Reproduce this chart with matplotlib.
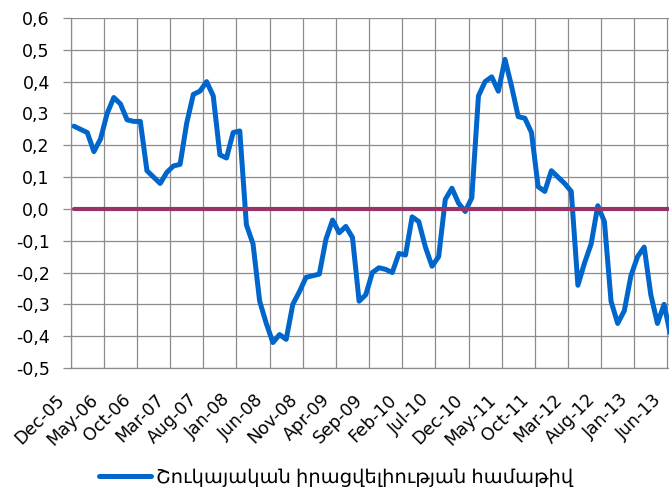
import matplotlib
matplotlib.use("Agg")
import matplotlib.pyplot as plt

# ---- data ----
index_values = [0.26, 0.25, 0.24, 0.18, 0.22, 0.30, 0.35, 0.33, 0.28, 0.275,
                0.275, 0.12, 0.10, 0.08, 0.115, 0.135, 0.14, 0.27, 0.36, 0.37,
                0.40, 0.355, 0.17, 0.16, 0.24, 0.245, -0.05, -0.11, -0.29, -0.36,
                -0.42, -0.395, -0.41, -0.30, -0.26, -0.215, -0.21, -0.205, -0.095, -0.035,
                -0.075, -0.055, -0.09, -0.29, -0.27, -0.20, -0.185, -0.19, -0.20, -0.14,
                -0.145, -0.025, -0.04, -0.12, -0.18, -0.15, 0.03, 0.065, 0.018, -0.008,
                0.035, 0.355, 0.40, 0.415, 0.37, 0.47, 0.385, 0.29, 0.285, 0.24,
                0.07, 0.055, 0.12, 0.10, 0.08, 0.055, -0.24, -0.17, -0.11, 0.01,
                -0.04, -0.29, -0.36, -0.32, -0.21, -0.15, -0.12, -0.27, -0.36, -0.30,
                -0.40]
zero_line = [0.0] * len(index_values)
tick_labels = ["Dec-05", "May-06", "Oct-06", "Mar-07", "Aug-07", "Jan-08", "Jun-08",
               "Nov-08", "Apr-09", "Sep-09", "Feb-10", "Jul-10", "Dec-10", "May-11",
               "Oct-11", "Mar-12", "Aug-12", "Jan-13", "Jun-13"]
y_ticks = [-0.5, -0.4, -0.3, -0.2, -0.1, 0.0, 0.1, 0.2, 0.3, 0.4, 0.5, 0.6]
series_name = "Շուկայական իրացվելիության համաթիվ"

W, H = 669, 494
fig = plt.figure(figsize=(W / 100, H / 100), dpi=100)
n = len(index_values)
px_per_cat = 6.63
left_px, top_px, bottom_px = 70.7, 18, 368
ax = fig.add_axes([left_px / W, (H - bottom_px) / H,
                   n * px_per_cat / W, (bottom_px - top_px) / H])

x = list(range(n))
ax.plot(x, index_values, color="#0066CC", lw=3.6, solid_capstyle="round",
        solid_joinstyle="round", zorder=3, label=series_name)
ax.plot(x, zero_line, color="#993366", lw=3.0, solid_capstyle="round", zorder=4)

ax.set_xlim(-0.5, n - 0.5)
ax.set_ylim(-0.5, 0.6)

# gridlines
grid_c = "#8c8c8c"
for gx in range(0, n + 1, 5):
    ax.axvline(gx - 0.5, color=grid_c, lw=0.9, zorder=1)
ax.set_yticks(y_ticks)
ax.set_yticklabels([f"{v:.1f}".replace(".", ",") for v in y_ticks],
                   fontfamily="DejaVu Sans")
ax.yaxis.grid(True, color=grid_c, lw=0.9, zorder=1)
ax.set_axisbelow(True)

ax.set_xticks([])
ax.tick_params(axis="y", length=6, width=0.9, color=grid_c, pad=9, labelsize=12.5)
for pos, lab in zip(range(0, n, 5), tick_labels):
    ax.annotate(lab, xy=(pos, 0), xycoords=ax.get_xaxis_transform(),
                xytext=(-12, -29), textcoords="offset pixels",
                rotation=45, ha="right", va="center", rotation_mode="anchor",
                fontsize=12.5, fontfamily="DejaVu Sans", annotation_clip=False)

for s in ["top", "right"]:
    ax.spines[s].set_visible(False)
for s in ["left", "bottom"]:
    ax.spines[s].set_color(grid_c)
    ax.spines[s].set_linewidth(0.9)

leg = fig.legend(loc="center", bbox_to_anchor=(336 / W, 1 - 478 / H), frameon=False,
                 handlelength=2.7, handletextpad=0.26,
                 prop={"family": ["Noto Sans", "DejaVu Sans"], "size": 14})

fig.savefig("out.png", dpi=100)
